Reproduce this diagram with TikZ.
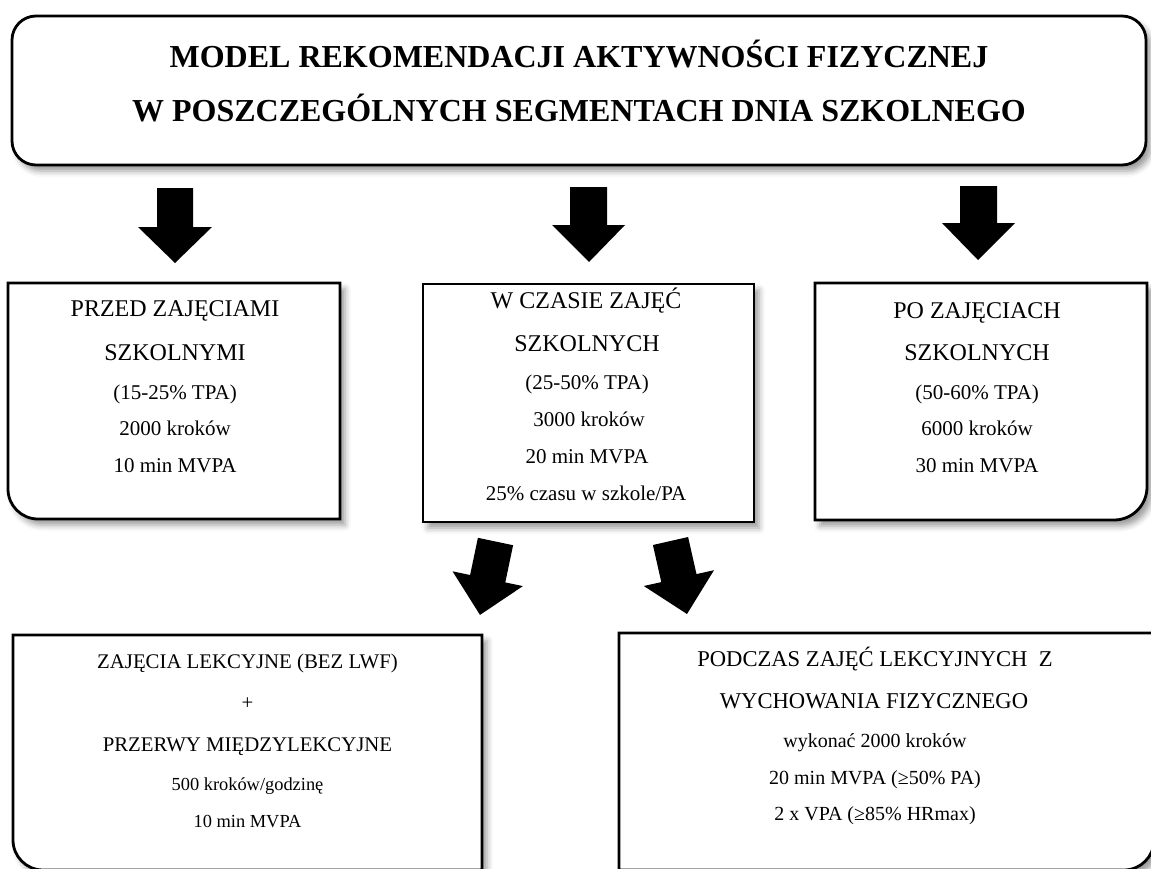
\documentclass[tikz,border=0pt]{standalone}
\usepackage{fontspec}
\setmainfont{Liberation Serif}
\usetikzlibrary{shadows.blur}
\tikzset{
  boxline/.style={draw=black, line width=1.4pt, fill=white,
    blur shadow={shadow xshift=2.5pt, shadow yshift=-3pt, shadow blur radius=3pt, shadow opacity=40}},
  blockarrow/.style={fill=black, draw=none},
  txt/.style={anchor=base, inner sep=0pt},
  ttl/.style={txt, font=\fontsize{16}{19}\selectfont\bfseries},
  hdr/.style={txt, font=\fontsize{12}{14}\selectfont},
  sml/.style={txt, font=\fontsize{10.5}{12.5}\selectfont},
  hdrb/.style={txt, font=\fontsize{10.4}{12.5}\selectfont},
  smlb/.style={txt, font=\fontsize{9.2}{11}\selectfont},
  hdrc/.style={txt, font=\fontsize{11.3}{13.5}\selectfont},
  smlc/.style={txt, font=\fontsize{10}{12}\selectfont}
}
\begin{document}
\begin{tikzpicture}[x=0.5pt,y=-0.5pt]
\useasboundingbox (0,0) rectangle (1151,868);
% top box
\draw[boxline, rounded corners=12pt] (12,16) rectangle (1146,165);
\node[ttl] (t1) at (579,67) {MODEL REKOMENDACJI AKTYWNOŚCI FIZYCZNEJ};
\node[ttl] (t2) at (579,121) {W POSZCZEGÓLNYCH SEGMENTACH DNIA SZKOLNEGO};
% arrows from top
\fill[blockarrow] (157,188) -- (193,188) -- (193,227) -- (212,227) -- (175,263) -- (138,227) -- (157,227) -- cycle;
\fill[blockarrow] (570,187) -- (607,187) -- (607,225) -- (625,225) -- (589,262) -- (552,225) -- (570,225) -- cycle;
\fill[blockarrow] (960,186) -- (997,186) -- (997,223) -- (1015,223) -- (978,260) -- (942,223) -- (960,223) -- cycle;
% box 1
\draw[boxline] (8,283) -- (340,283) -- (340,519) -- (38,519) .. controls (21.4,519) and (8,505.6) .. (8,489) -- cycle;
\node[hdr] (a1) at (175,316) {PRZED ZAJĘCIAMI};
\node[hdr] (a2) at (175,360) {SZKOLNYMI};
\node[sml] (a3) at (175,399) {(15-25\% TPA)};
\node[sml] (a4) at (175,435) {2000 kroków};
\node[sml] (a5) at (175,472) {10 min MVPA};
% box 2
\draw[boxline] (423,284) rectangle (754,522);
\node[hdr] (b1) at (586,308) {W CZASIE ZAJĘĆ};
\node[hdr] (b2) at (587,351) {SZKOLNYCH};
\node[sml] (b3) at (587,389) {(25-50\% TPA)};
\node[sml] (b4) at (589,426) {3000 kroków};
\node[sml] (b5) at (587,463) {20 min MVPA};
\node[sml] (b6) at (586,500) {25\% czasu w szkole/PA};
% box 3
\draw[boxline] (815,283) -- (1147,283) -- (1147,487) .. controls (1147,505.2) and (1132.2,520) .. (1114,520) -- (815,520) -- cycle;
\node[hdr] (c1) at (977,318) {PO ZAJĘCIACH};
\node[hdr] (c2) at (977,360) {SZKOLNYCH};
\node[sml] (c3) at (977,399) {(50-60\% TPA)};
\node[sml] (c4) at (977,435) {6000 kroków};
\node[sml] (c5) at (977,472) {30 min MVPA};
% arrows from box 2
\fill[blockarrow] (477.9,537.8) -- (513.1,545.2) -- (505.3,582.4) -- (522.9,586.1) -- (480,614.9) -- (452.5,571.3) -- (470.1,575.0) -- cycle;
\fill[blockarrow] (652.9,545.0) -- (688.1,537.0) -- (696.5,574.1) -- (714.0,570.2) -- (687,614) -- (643.8,586.0) -- (661.3,582.1) -- cycle;
% box 4
\draw[boxline] (13,635) -- (482,635) -- (482,870) -- (43,870) .. controls (26.4,870) and (13,856.6) .. (13,840) -- cycle;
\node[hdrb] (d1) at (247.5,668) {ZAJĘCIA LEKCYJNE (BEZ LWF)};
\node[hdrb] (d2) at (247.5,709) {+};
\node[hdrb] (d3) at (247.5,751) {PRZERWY MIĘDZYLEKCYJNE};
\node[smlb] (d4) at (247.5,790) {500 kroków/godzinę};
\node[smlb] (d5) at (247.5,827) {10 min MVPA};
% box 5
\draw[boxline] (619,633) -- (1154,633) -- (1154,840) .. controls (1154,856.6) and (1140.6,870) .. (1124,870) -- (619,870) -- cycle;
\node[hdrc] (e1) at (875,666) {PODCZAS ZAJĘĆ LEKCYJNYCH\ \ Z};
\node[hdrc] (e2) at (874,708) {WYCHOWANIA FIZYCZNEGO};
\node[smlc] (e3) at (875,747) {wykonać 2000 kroków};
\node[smlc] (e4) at (875,784) {20 min MVPA (≥50\% PA)};
\node[smlc] (e5) at (875,820) {2 x VPA (≥85\% HRmax)};
\end{tikzpicture}
\end{document}
